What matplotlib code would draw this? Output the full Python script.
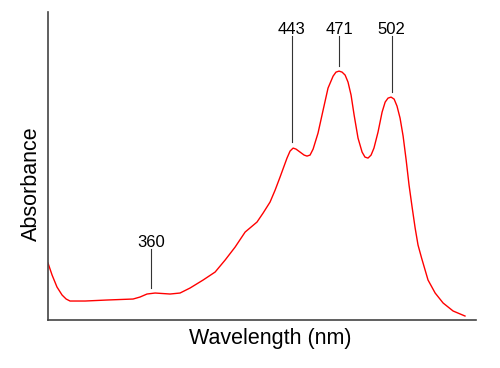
import matplotlib
matplotlib.use("Agg")
import matplotlib.pyplot as plt

plt.rcParams['font.family'] = ['Liberation Sans', 'DejaVu Sans']

# spectrum (wavelength in nm, absorbance in arbitrary units)
wavelength = [299.2, 301.6, 304.5, 307.5, 309.9, 312.2, 321.1, 334.0, 349.4, 353.5,
              357.6, 362.4, 371.2, 377.1, 383.0, 390.7, 397.8, 403.7, 409.6, 415.5,
              422.5, 426.1, 430.2, 433.2, 436.1, 440.2, 442.0, 443.8, 445.5, 447.9,
              450.3, 452.0, 453.8, 455.6, 458.5, 461.5, 464.4, 467.4, 469.1, 470.9,
              472.7, 474.5, 476.2, 478.0, 479.8, 482.1, 484.5, 486.2, 488.0, 489.8,
              491.5, 493.9, 496.3, 498.1, 499.8, 501.6, 503.4, 505.1, 506.9, 508.7,
              510.5, 512.2, 514.0, 515.8, 517.5, 519.6, 523.4, 527.6, 532.3, 538.2,
              545.2]
absorbance = [0.57, 0.45, 0.33, 0.25, 0.21, 0.19, 0.19, 0.20, 0.21, 0.23,
              0.26, 0.27, 0.26, 0.27, 0.32, 0.40, 0.48, 0.60, 0.73, 0.88,
              0.98, 1.07, 1.18, 1.30, 1.43, 1.62, 1.69, 1.72, 1.71, 1.68,
              1.65, 1.64, 1.65, 1.71, 1.87, 2.10, 2.32, 2.44, 2.48, 2.49,
              2.48, 2.45, 2.38, 2.25, 2.05, 1.82, 1.68, 1.63, 1.62, 1.65,
              1.72, 1.88, 2.08, 2.18, 2.22, 2.23, 2.21, 2.14, 2.02, 1.84,
              1.60, 1.35, 1.13, 0.92, 0.75, 0.62, 0.40, 0.27, 0.17, 0.09,
              0.04]

# labelled peaks: position, label text, bottom end of the marker line, top end
peak_nm = [360, 443, 471, 502]
peak_labels = ['360', '443', '471', '502']
line_bottom = [0.32, 1.78, 2.54, 2.28]
line_top = [0.71, 2.84, 2.84, 2.84]

fig = plt.figure(figsize=(5, 3.68), dpi=100)
ax = fig.add_axes([0.096, 0.1304, 0.856, 0.8366])

ax.plot(wavelength, absorbance, color='red', linewidth=1.0)

for x, lab, y0, y1 in zip(peak_nm, peak_labels, line_bottom, line_top):
    ax.plot([x, x], [y0, y1], color='#333333', linewidth=0.8)
    ax.text(x, y1 + 0.025, lab, ha='center', va='baseline', fontsize=12, color='black')

ax.set_xlim(299.2, 551.7)
ax.set_ylim(0, 3.08)
ax.set_xticks([])
ax.set_yticks([])
for side in ['top', 'right']:
    ax.spines[side].set_visible(False)
for side in ['left', 'bottom']:
    ax.spines[side].set_color('#444444')
    ax.spines[side].set_linewidth(1.2)

ax.set_xlabel('Wavelength (nm)', fontsize=15.5)
ax.set_ylabel('Absorbance', fontsize=15.5)
ax.xaxis.set_label_coords(0.52, -0.026)
ax.yaxis.set_label_coords(-0.014, 0.443)

fig.savefig('out.png', dpi=100)
